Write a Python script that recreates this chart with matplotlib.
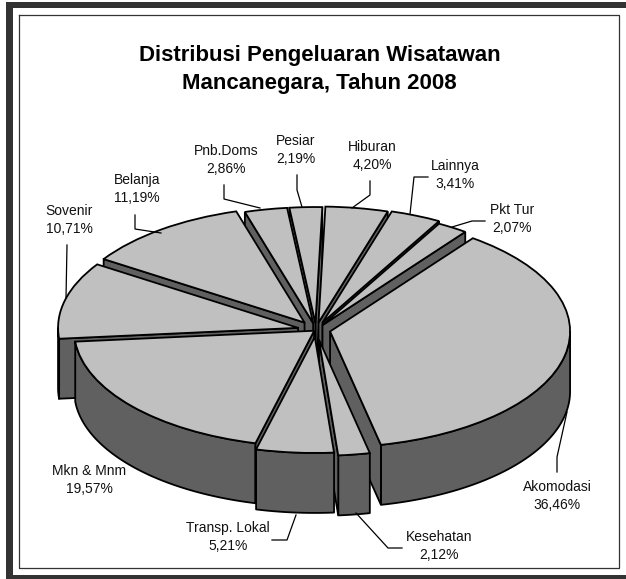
#!/usr/bin/env python3
"""Distribusi pengeluaran wisatawan: exploded 3D-look pie."""
import numpy as np
import matplotlib
matplotlib.use('Agg')
import matplotlib.pyplot as plt

plt.rcParams['font.family'] = ['Liberation Sans', 'DejaVu Sans']

names = ['Akomodasi', 'Kesehatan', 'Transp. Lokal', 'Mkn & Mnm', 'Sovenir',
         'Belanja', 'Pnb.Doms', 'Pesiar', 'Hiburan', 'Lainnya', 'Pkt Tur']
shares = [36.46, 2.12, 5.21, 19.57, 10.71, 11.19, 2.86, 2.19, 4.20, 3.41, 2.07]
explode = [.06, .085, .06, .01, .077, .08, .06, .06, .065, .07, .05]

# label block centres and leader lines, in image pixels
label_pos = [(557, 496), (439, 546), (228, 537), (89, 480), (69, 220),
             (137, 189), (226, 160), (296, 150), (372, 156), (455, 175),
             (512, 219)]
leaders = [[(557, 472), (557, 457), (567, 412)],
           [(402, 548), (388, 548), (356, 513)],
           [(272, 540), (287, 540), (296, 515)],
           [],
           [(67, 245), (66, 298)],
           [(135, 215), (135, 229), (161, 233)],
           [(224, 185), (224, 199), (260, 208)],
           [(297, 175), (297, 190), (302, 207)],
           [(370, 181), (370, 195), (352, 208)],
           [(428, 177), (414, 177), (410, 214)],
           [(485, 221), (472, 221), (452, 227)]]

W, H = 626, 579
CX, CY, RX, RY = 316, 330, 240, 116
DEPTH = 60 / RY
TOP = '#c0c0c0'
SIDE = '#606060'
LW = 1.3


def draw_walls(ax, wedge, zorder):
    """Dark side walls below a wedge: arc part plus the visible radial sides."""
    lo, hi = wedge.theta1, wedge.theta2
    x0, y0 = wedge.center
    t = np.radians(np.linspace(lo, hi, 300))
    keep = np.sin(t) < 0
    if keep.any():
        xs = x0 + np.cos(t[keep])
        ys = y0 + np.sin(t[keep])
        ax.fill(np.r_[xs, xs[::-1]], np.r_[ys, ys[::-1] - DEPTH],
                fc=SIDE, ec='k', lw=LW, zorder=zorder, joinstyle='round')
    # lo is the clockwise end of the slice, hi the clockwise start
    for ang, show in ((lo, np.cos(np.radians(lo)) > 0),
                      (hi, np.cos(np.radians(hi)) < 0)):
        if show:
            xe = x0 + np.cos(np.radians(ang))
            ye = y0 + np.sin(np.radians(ang))
            ax.fill([x0, xe, xe, x0], [y0, ye, ye - DEPTH, y0 - DEPTH],
                    fc=SIDE, ec='k', lw=LW, zorder=zorder)


fig = plt.figure(figsize=(W / 100, H / 100), dpi=100)
ax = fig.add_axes([0, 0, 1, 1])
wedges, _ = ax.pie(shares, explode=explode, startangle=90 - 36.5,
                   counterclock=False, colors=[TOP] * len(shares),
                   wedgeprops={'edgecolor': 'k', 'linewidth': LW})
ax.set_aspect('auto')
ax.set_xlim(-CX / RX, (W - CX) / RX)
ax.set_ylim((CY - H) / RY, CY / RY)
ax.axis('off')

# far slices first, so the near ones cover their walls
mids = [np.radians((w.theta1 + w.theta2) / 2) for w in wedges]
order = np.argsort([-np.sin(m) for m in mids])
for rank, i in enumerate(order):
    draw_walls(ax, wedges[i], 10 + 2 * rank)
    wedges[i].set_zorder(11 + 2 * rank)

# overlay in pixel coordinates for frame, title and labels
top = fig.add_axes([0, 0, 1, 1])
top.set_xlim(0, W)
top.set_ylim(H, 0)
top.axis('off')
top.patch.set_alpha(0)

for name, s, (x, y), pts in zip(names, shares, label_pos, leaders):
    value = format(s, '.2f').replace('.', ',')
    top.text(x, y, f'{name}\n{value}%', ha='center', va='center', fontsize=10,
             linespacing=1.35, color='#111111')
    if pts:
        top.plot(*zip(*pts), color='k', lw=0.9)

top.text(319.5, 69.5, 'Distribusi Pengeluaran Wisatawan\nMancanegara, Tahun 2008',
         ha='center', va='center', fontsize=16, fontweight='bold',
         linespacing=1.5, color='k')

# thick bands on top, left and bottom, thin inner line
band = '#333333'
top.fill([6, W, W, 6], [2, 2, 8, 8], color=band, lw=0)
top.fill([6, 13, 13, 6], [2, 2, H, H], color=band, lw=0)
top.fill([6, W, W, 6], [575, 575, H, H], color=band, lw=0)
top.plot([19, 19, 619, 619, 19], [14.5, 568, 568, 14.5, 14.5], color=band, lw=0.9)

fig.savefig('out.png', dpi=100)
